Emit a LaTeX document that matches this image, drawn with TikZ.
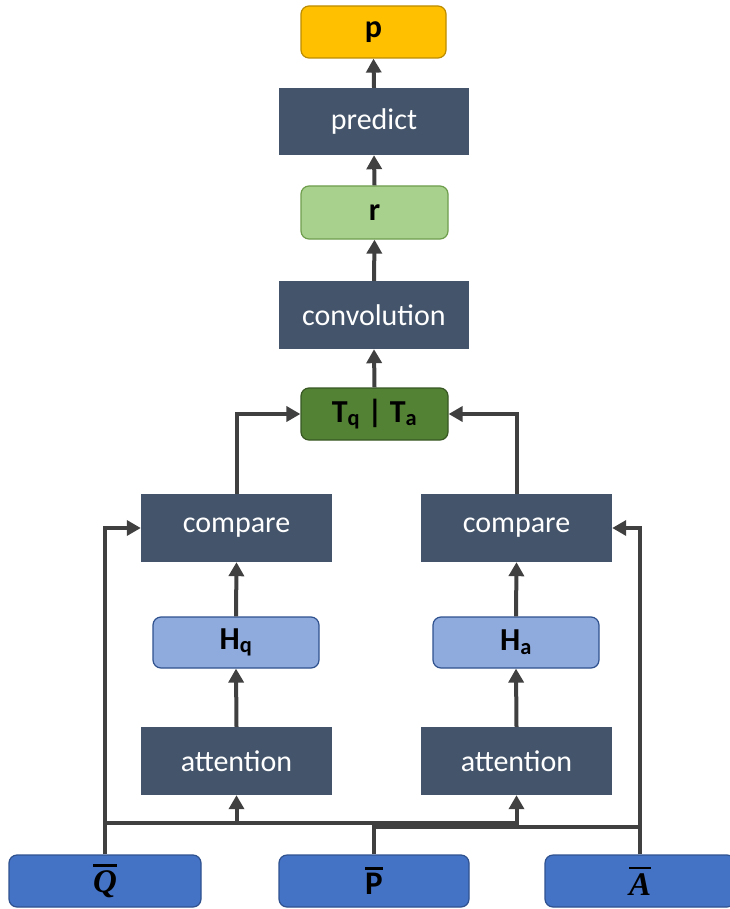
\documentclass[tikz,border=0pt]{standalone}
\usepackage{fontspec}
\setmainfont{Carlito}
\newfontfamily\symbolfont{Liberation Serif}
\usetikzlibrary{arrows.meta}
\definecolor{slate}{HTML}{44546A}
\definecolor{gold}{HTML}{FFC000}
\definecolor{goldline}{HTML}{BC8C00}
\definecolor{leaf}{HTML}{A9D18E}
\definecolor{leafline}{HTML}{6E9E4C}
\definecolor{moss}{HTML}{548235}
\definecolor{mossline}{HTML}{385723}
\definecolor{sky}{HTML}{8FAADC}
\definecolor{royal}{HTML}{4472C4}
\definecolor{navyline}{HTML}{2F528F}
\definecolor{wire}{HTML}{404040}
% a symbol with a bar set above it
\newcommand{\barsym}[1]{\vbox{\hrule height 2.4pt\kern 4pt\hbox{#1}}}
\tikzset{
  layer/.style={fill=slate, draw=none, text=white, minimum width=190pt, minimum height=68pt,
    font=\fontsize{30}{36}\selectfont},
  tag/.style={rounded corners=8pt, line width=1.2pt, minimum height=52pt,
    font=\fontsize{32}{38}\selectfont\bfseries},
  inputbox/.style={tag, fill=royal, draw=navyline, minimum width=192pt,
    font=\fontsize{33}{38}\selectfont\bfseries},
  wireline/.style={draw=wire, line width=4pt},
  arr/.style={wireline, -{Triangle[length=14pt,width=15pt]}},
}
\begin{document}
\begin{tikzpicture}[x=1pt, y=-1pt]
\useasboundingbox (0,0) rectangle (729,909);

% output stack
\node[tag, fill=gold, draw=goldline, minimum width=145pt] (p) at (373.5,32) {p};
\node[layer, minimum height=67pt] (pred) at (374,121.5) {predict};
\node[tag, fill=leaf, draw=leafline, minimum width=147pt, minimum height=53pt] (r) at (374.5,212.5) {r};
\node[layer] (conv) at (374,315) {convolution};
\node[tag, fill=moss, draw=mossline, minimum width=147pt] (T) at (374.5,414) {T\textsubscript{q} | T\textsubscript{a}};

% comparison branches
\node[layer, minimum width=191pt] (cmpL) at (236.5,528) {compare};
\node[layer, minimum width=191pt] (cmpR) at (516.5,528) {compare};
\node[tag, fill=sky, draw=navyline, minimum width=166pt, minimum height=51pt] (Hq) at (236,642.5) {H\textsubscript{q}};
\node[tag, fill=sky, draw=navyline, minimum width=166pt, minimum height=51pt] (Ha) at (516,642.5) {H\textsubscript{a}};
\node[layer, minimum width=191pt] (attL) at (236.5,761) {attention};
\node[layer, minimum width=191pt] (attR) at (516.5,761) {attention};

% inputs
\node[inputbox] (Q) at (105,881) {\barsym{\symbolfont\bfseries\itshape Q}};
\node[inputbox, minimum width=190pt] (P) at (374,881) {\barsym{P}};
\node[inputbox, minimum width=190pt] (A) at (640,881) {\barsym{\symbolfont\bfseries\itshape A}};

\coordinate (busHi) at (0,823);
\coordinate (busLo) at (0,827);

% input bus
\draw[wireline] (Q.north |- busHi) -- (attR.south |- busHi);
\draw[wireline] (P.north |- busLo) -- (A.north |- busLo);
\draw[wireline] (P.north) -- (P.north |- busHi);
\draw[arr] (attL.south |- busHi) -- (attL.south);
\draw[arr] (attR.south |- busLo) -- (attR.south);
\draw[arr] (Q.north) |- (cmpL.west);
\draw[arr] (A.north) |- (cmpR.east);

% branch flow
\draw[arr] (attL.north) -- (Hq.south);
\draw[arr] (attR.north) -- (Ha.south);
\draw[arr] (Hq.north) -- (cmpL.south);
\draw[arr] (Ha.north) -- (cmpR.south);
\draw[arr] (cmpL.north) |- (T.west);
\draw[arr] (cmpR.north) |- (T.east);

% output flow
\draw[arr] (T.north) -- (conv.south);
\draw[arr] (conv.north) -- (r.south);
\draw[arr] (r.north) -- (pred.south);
\draw[arr] (pred.north) -- (p.south);
\end{tikzpicture}
\end{document}
